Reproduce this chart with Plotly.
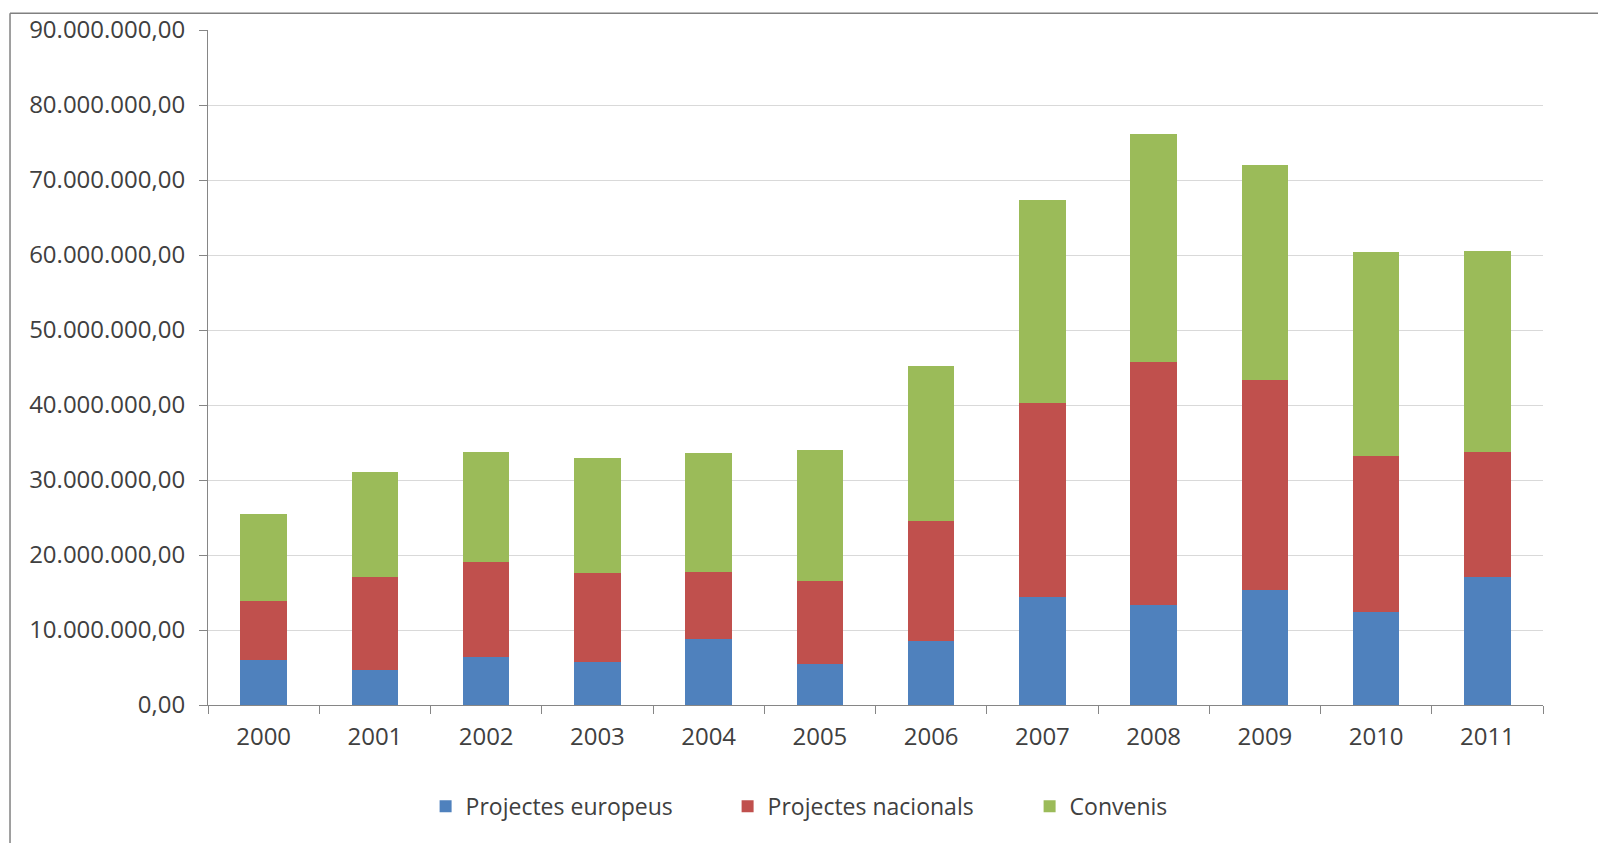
import plotly.graph_objects as go

years = ["2000", "2001", "2002", "2003", "2004", "2005", "2006", "2007", "2008", "2009", "2010", "2011"]
europeus = [6.0e6, 4.7e6, 6.4e6, 5.7e6, 8.8e6, 5.5e6, 8.5e6, 14.4e6, 13.3e6, 15.4e6, 12.4e6, 17.1e6]
nacionals = [7.9e6, 12.4e6, 12.7e6, 11.9e6, 9.0e6, 11.1e6, 16.1e6, 25.9e6, 32.4e6, 28.0e6, 20.8e6, 16.7e6]
convenis = [11.6e6, 14.0e6, 14.6e6, 15.4e6, 15.8e6, 17.4e6, 20.6e6, 27.1e6, 30.5e6, 28.6e6, 27.2e6, 26.8e6]

names = ["Projectes europeus", "Projectes nacionals", "Convenis"]
colors = ["#4F81BD", "#C0504D", "#9BBB59"]

FONT = "Open Sans, sans-serif"

fig = go.Figure()
for name, vals, col in zip(names, [europeus, nacionals, convenis], colors):
    fig.add_trace(go.Bar(x=years, y=vals, name=name, marker=dict(color=col, line=dict(width=0))))

fig.update_layout(
    barmode="stack",
    bargap=0.58,
    width=1598,
    height=843,
    paper_bgcolor="white",
    plot_bgcolor="white",
    separators=",.",
    margin=dict(l=208, r=55, t=27, b=138),
    font=dict(family=FONT, size=24, color="#404040"),
    legend=dict(
        orientation="h",
        traceorder="normal",
        x=0.163,
        xanchor="left",
        y=-0.15,
        yanchor="middle",
        font=dict(family=FONT, size=23, color="#404040"),
        entrywidth=257,
        entrywidthmode="pixels",
        itemwidth=30,
    ),
    showlegend=True,
)

fig.update_xaxes(
    type="category",
    showline=True,
    linecolor="#868686",
    linewidth=1,
    ticks="outside",
    tickson="boundaries",
    ticklen=8,
    tickcolor="#868686",
    showgrid=False,
    ticklabelstandoff=10,
    tickfont=dict(family=FONT, size=24, color="#404040"),
)
fig.update_yaxes(
    range=[0, 90e6],
    tickvals=[i * 10e6 for i in range(10)],
    tickformat=",.2f",
    showline=True,
    linecolor="#868686",
    linewidth=1,
    ticks="outside",
    ticklen=8,
    tickcolor="#868686",
    showgrid=True,
    gridcolor="#D9D9D9",
    gridwidth=1,
    zeroline=False,
    ticklabelstandoff=9,
    tickfont=dict(family=FONT, size=24, color="#404040"),
)

# chart-area frame (left and top edges visible in the reference)
fig.add_shape(type="line", xref="paper", yref="paper", x0=-0.1483, x1=-0.1483, y0=1.025, y1=-0.21,
              line=dict(color="#808080", width=1.5))
fig.add_shape(type="line", xref="paper", yref="paper", x0=-0.1483, x1=1.05, y0=1.025, y1=1.025,
              line=dict(color="#808080", width=1.5))

fig.write_html(
    "out.html",
    config={"displayModeBar": False},
    post_script="document.body.style.margin='0';document.body.style.overflow='hidden';",
)
